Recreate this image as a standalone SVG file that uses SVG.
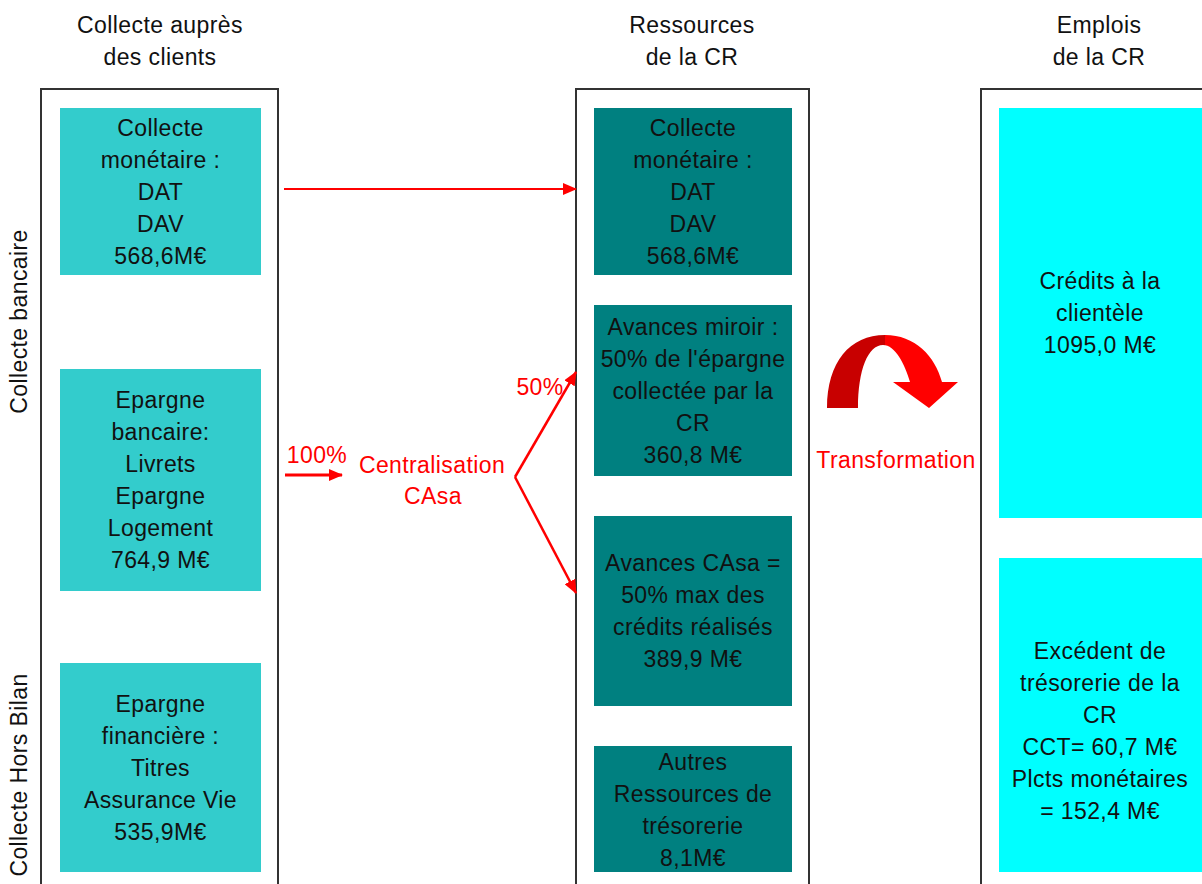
<svg xmlns="http://www.w3.org/2000/svg" width="1202" height="884" viewBox="0 0 1202 884">
<defs>
<style>
text{font-family:"Liberation Sans",Arial,sans-serif;font-size:23px;fill:#111;text-anchor:middle;letter-spacing:0.4px}
.red{fill:#FF0000}
.frame{fill:none;stroke:#333;stroke-width:2}
.c1{fill:#33CCCC}
.c2{fill:#008080}
.c3{fill:#00FFFF}
.ln{fill:none;stroke:#FF0000}
</style>
<marker id="ah" markerUnits="userSpaceOnUse" viewBox="0 0 14 12" refX="13" refY="6" markerWidth="14" markerHeight="12" orient="auto">
<path d="M0 0 L14 6 L0 12 Z" fill="#FF0000"/>
</marker>
<linearGradient id="tg" gradientUnits="userSpaceOnUse" x1="827" y1="0" x2="958" y2="0">
<stop offset="0" stop-color="#C80000"/>
<stop offset="0.44" stop-color="#C80000"/>
<stop offset="0.44" stop-color="#FF0000"/>
<stop offset="1" stop-color="#FF0000"/>
</linearGradient>
</defs>
<rect width="1202" height="884" fill="#FFFFFF"/>

<g id="headers">
<text x="160" y="33">Collecte auprès</text>
<text x="160" y="65">des clients</text>
<text x="692" y="33">Ressources</text>
<text x="692" y="65">de la CR</text>
<text x="1099" y="33">Emplois</text>
<text x="1099" y="65">de la CR</text>
<text transform="translate(27,321.5) rotate(-90)" x="0" y="0">Collecte bancaire</text>
<text transform="translate(27,775) rotate(-90)" x="0" y="0">Collecte Hors Bilan</text>
</g>

<g id="frames">
<path class="frame" d="M41 885 V89 H278 V885"/>
<path class="frame" d="M576 885 V89 H809 V885"/>
<path class="frame" d="M981 885 V89 H1203"/>
</g>

<g id="collecte-monetaire">
<rect class="c1" x="60" y="108" width="201" height="167"/>
<text x="160.5" y="135.5">Collecte</text>
<text x="160.5" y="167.5">monétaire :</text>
<text x="160.5" y="199.5">DAT</text>
<text x="160.5" y="231.5">DAV</text>
<text x="160.5" y="263.5">568,6M€</text>
</g>

<g id="epargne-bancaire">
<rect class="c1" x="60" y="369" width="201" height="222"/>
<text x="160.5" y="408">Epargne</text>
<text x="160.5" y="440">bancaire:</text>
<text x="160.5" y="472">Livrets</text>
<text x="160.5" y="504">Epargne</text>
<text x="160.5" y="536">Logement</text>
<text x="160.5" y="568">764,9 M€</text>
</g>

<g id="epargne-financiere">
<rect class="c1" x="60" y="663" width="201" height="209"/>
<text x="160.5" y="712">Epargne</text>
<text x="160.5" y="744">financière :</text>
<text x="160.5" y="776">Titres</text>
<text x="160.5" y="808">Assurance Vie</text>
<text x="160.5" y="840">535,9M€</text>
</g>

<g id="ressource-monetaire">
<rect class="c2" x="594" y="108" width="198" height="167"/>
<text x="693" y="135.5">Collecte</text>
<text x="693" y="167.5">monétaire :</text>
<text x="693" y="199.5">DAT</text>
<text x="693" y="231.5">DAV</text>
<text x="693" y="263.5">568,6M€</text>
</g>

<g id="avances-miroir">
<rect class="c2" x="594" y="305" width="198" height="171"/>
<text x="693" y="335">Avances miroir :</text>
<text x="693" y="367">50% de l'épargne</text>
<text x="693" y="399">collectée par la</text>
<text x="693" y="431">CR</text>
<text x="693" y="463">360,8 M€</text>
</g>

<g id="avances-casa">
<rect class="c2" x="594" y="516" width="198" height="190"/>
<text x="693" y="571">Avances CAsa =</text>
<text x="693" y="603">50% max des</text>
<text x="693" y="635">crédits réalisés</text>
<text x="693" y="667">389,9 M€</text>
</g>

<g id="autres-ressources">
<rect class="c2" x="594" y="746" width="198" height="126"/>
<text x="693" y="770">Autres</text>
<text x="693" y="802">Ressources de</text>
<text x="693" y="834">trésorerie</text>
<text x="693" y="866">8,1M€</text>
</g>

<g id="credits-clientele">
<rect class="c3" x="999" y="108" width="204" height="410"/>
<text x="1100" y="289">Crédits à la</text>
<text x="1100" y="321">clientèle</text>
<text x="1100" y="353">1095,0 M€</text>
</g>

<g id="excedent-tresorerie">
<rect class="c3" x="999" y="558" width="204" height="314"/>
<text x="1100" y="659">Excédent de</text>
<text x="1100" y="691">trésorerie de la</text>
<text x="1100" y="723">CR</text>
<text x="1100" y="755">CCT= 60,7 M€</text>
<text x="1100" y="787">Plcts monétaires</text>
<text x="1100" y="819">= 152,4 M€</text>
</g>

<g id="centralisation">
<text class="red" x="432" y="473">Centralisation</text>
<text class="red" x="433" y="504">CAsa</text>
</g>

<g id="transformation">
<path fill="url(#tg)" d="M827 408 C827 362 850 335 885 335 C915 335 935 356 942 382 L958 382 L929 408 L893 382 L910 382 C905 364 895 345 883 345 C868 345 858 370 858 408 Z"/>
<text class="red" x="896" y="468">Transformation</text>
</g>

<g id="connectors">
<line class="ln" x1="284" y1="189" x2="576" y2="189" stroke-width="2" marker-end="url(#ah)"/>
<line class="ln" x1="285" y1="475" x2="342" y2="475" stroke-width="3" marker-end="url(#ah)"/>
<text class="red" x="317" y="463">100%</text>
<line class="ln" x1="515" y1="477" x2="576" y2="372" stroke-width="2.5" marker-end="url(#ah)"/>
<line class="ln" x1="515" y1="477" x2="576" y2="593" stroke-width="2.5" marker-end="url(#ah)"/>
<text class="red" x="540" y="395">50%</text>
</g>
</svg>
